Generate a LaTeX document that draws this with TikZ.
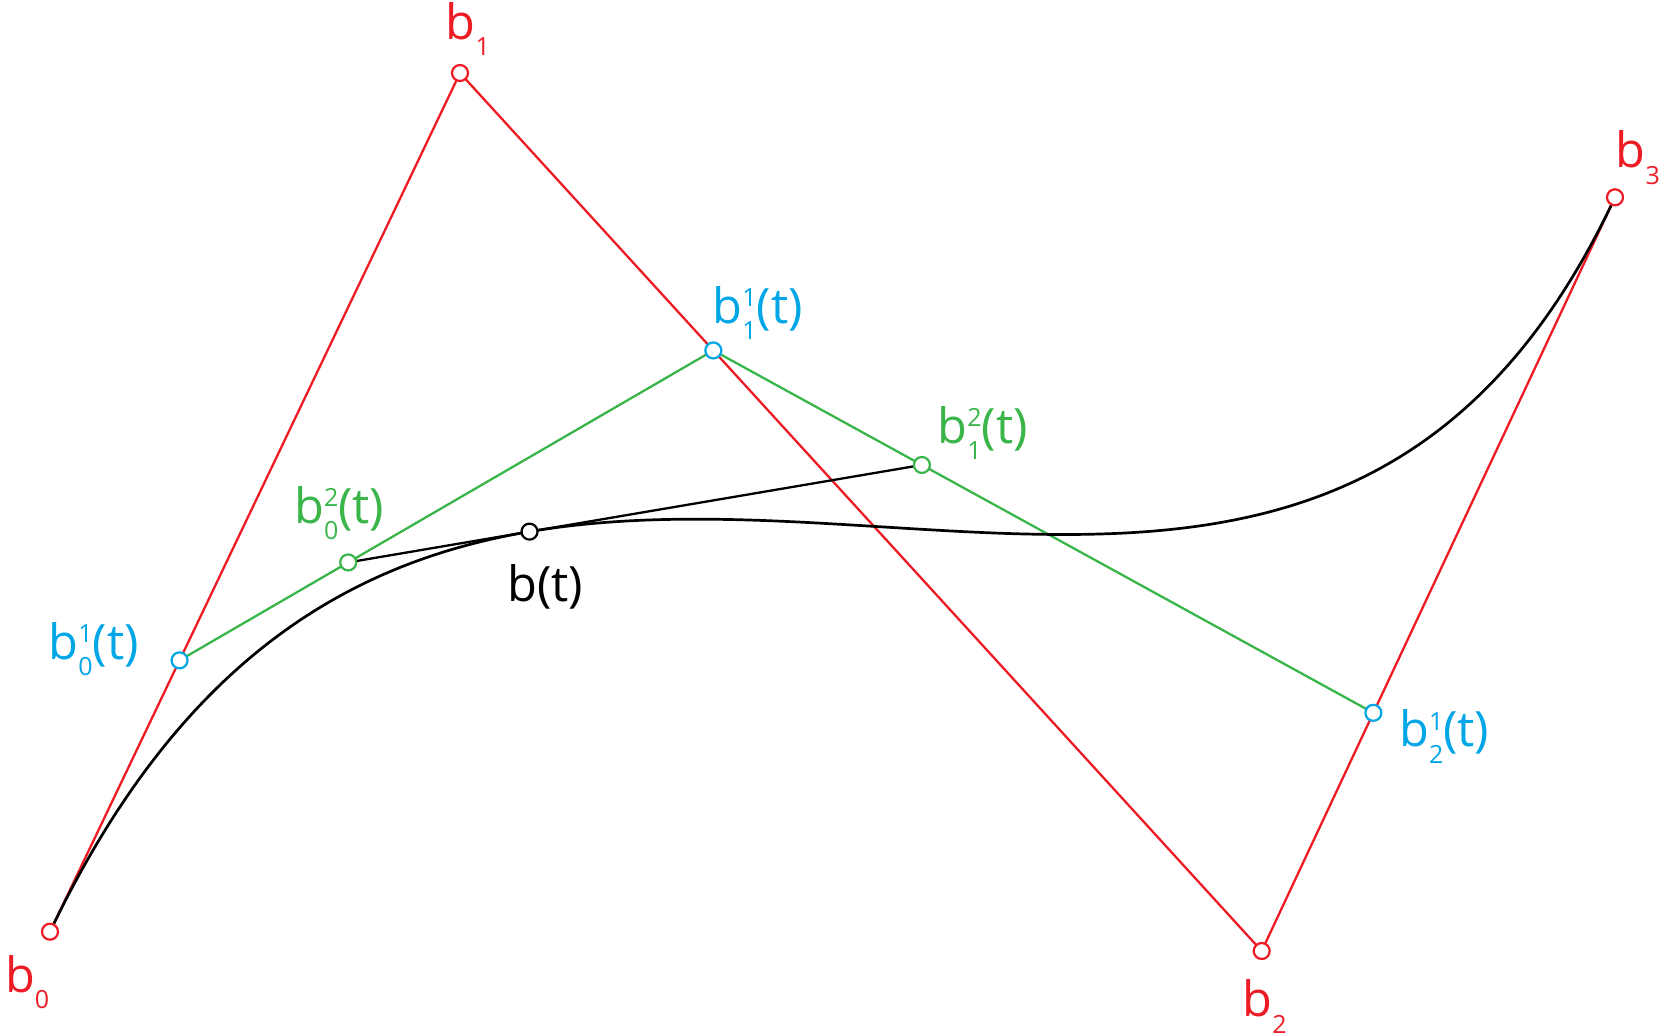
\documentclass[tikz,border=0pt]{standalone}
\usepackage{fontspec}
\setmainfont{Open Sans}
\usetikzlibrary{calc}
\definecolor{bred}{RGB}{237,28,36}
\definecolor{bblue}{RGB}{0,166,230}
\definecolor{bgreen}{RGB}{57,181,74}
\newcommand{\bigsz}{\fontsize{48.7}{56}\selectfont}
\newcommand{\smsz}{\fontsize{25}{28}\selectfont}
\newcommand{\bsupsub}[2]{b\rlap{\raisebox{16.6pt}{\smsz #1}}\raisebox{-16.6pt}{\smsz #2}(t)}
\newcommand{\bctl}[1]{b\raisebox{-16.3pt}{\smsz #1}}
\tikzset{
  ptnode/.style={circle, draw=#1, fill=white, line width=2.2pt, minimum size=16pt, inner sep=0pt},
  lbl/.style={inner sep=0pt, anchor=base west, font=\bigsz, text=#1},
  polyred/.style={draw=bred, line width=2.3pt},
  polygreen/.style={draw=bgreen, line width=2.3pt},
  curveblack/.style={draw=black, line width=2.7pt},
}
\begin{document}
\begin{tikzpicture}[x=1pt, y=-1pt]
\useasboundingbox (0,0) rectangle (1662,1035);
\def\tval{0.316}
\coordinate (B0) at (50,931.7);
\coordinate (B1) at (460,73);
\coordinate (B2) at (1261.7,951);
\coordinate (B3) at (1615,197.3);
\coordinate (P01) at ($(B0)!\tval!(B1)$);
\coordinate (P11) at ($(B1)!\tval!(B2)$);
\coordinate (P21) at ($(B2)!\tval!(B3)$);
\coordinate (P02) at ($(P01)!\tval!(P11)$);
\coordinate (P12) at ($(P11)!\tval!(P21)$);
\coordinate (PT) at ($(P02)!\tval!(P12)$);
% control polygon
\draw[polyred] (B0) -- (B1) -- (B2) -- (B3);
% first level
\draw[polygreen] (P01) -- (P11) -- (P21);
% curve and tangent
\draw[curveblack] (B0) .. controls (B1) and (B2) .. (B3);
\draw[draw=black, line width=2.3pt] (P02) -- (P12);
% points
\node[ptnode=bred] (n0) at (B0) {};
\node[ptnode=bred] (n1) at (B1) {};
\node[ptnode=bred] (n2) at (B2) {};
\node[ptnode=bred] (n3) at (B3) {};
\node[ptnode=bblue] (m0) at (P01) {};
\node[ptnode=bblue] (m1) at (P11) {};
\node[ptnode=bblue] (m2) at (P21) {};
\node[ptnode=bgreen] (g0) at (P02) {};
\node[ptnode=bgreen] (g1) at (P12) {};
\node[ptnode=black] (bt) at (PT) {};
% labels
\node[lbl=bred] (l0) at (4.9,992) {\bctl{0}};
\node[lbl=bred] (l1) at (445.6,39.3) {\bctl{1}};
\node[lbl=bred] (l2) at (1242.3,1016.7) {\bctl{2}};
\node[lbl=bred] (l3) at (1615.6,168) {\bctl{3}};
\node[lbl=bblue] (lm0) at (48.3,659) {\bsupsub{1}{0}};
\node[lbl=bblue] (lm1) at (712.3,323.3) {\bsupsub{1}{1}};
\node[lbl=bblue] (lm2) at (1399,746.7) {\bsupsub{1}{2}};
\node[lbl=bgreen] (lg0) at (294,523.3) {\bsupsub{2}{0}};
\node[lbl=bgreen] (lg1) at (937.3,443.3) {\bsupsub{2}{1}};
\node[lbl=black] (lbt) at (507.3,601.7) {b(t)};
\end{tikzpicture}
\end{document}
